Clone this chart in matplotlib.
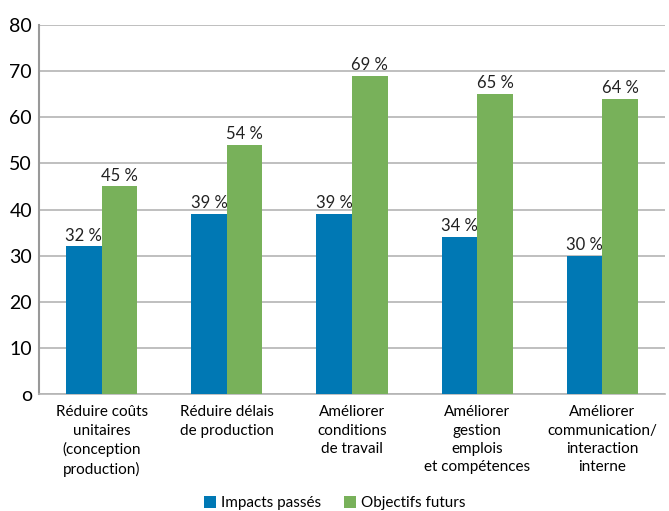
#!/usr/bin/env python3
import numpy as np
from matplotlib import pyplot as plt

plt.rcParams["font.family"] = ["Lato", "DejaVu Sans"]

CATEGORIES = [
    "Réduire coûts\nunitaires\n(conception\nproduction)",
    "Réduire délais\nde production",
    "Améliorer\nconditions\nde travail",
    "Améliorer\ngestion\nemplois\net compétences",
    "Améliorer\ncommunication/\ninteraction\ninterne",
]
SERIES_NAMES = ["Impacts passés", "Objectifs futurs"]
PAST = [32, 39, 39, 34, 30]
FUTURE = [45, 54, 69, 65, 64]
COLORS = ["#0078b4", "#78b15a"]


def main():
    fig = plt.figure(figsize=(6.69, 5.11), dpi=100)
    ax = fig.add_axes((39 / 669, 1 - 394 / 511, 626 / 669, 369 / 511))

    x = np.arange(len(CATEGORIES))
    width = 0.285
    for i, (vals, name, color) in enumerate(zip([PAST, FUTURE], SERIES_NAMES, COLORS)):
        offs = (i - 0.5) * width
        bars = ax.bar(x + offs, vals, width, color=color, label=name, zorder=3)
        for b, v in zip(bars, vals):
            ax.text(b.get_x() + b.get_width() / 2, v + 0.6, f"{v} %",
                    ha="center", va="bottom", fontsize=12, color="#222222")

    ax.set_xlim(-0.5, len(CATEGORIES) - 0.5)
    ax.set_ylim(0, 80)
    ax.set_yticks(range(0, 81, 10))
    ax.set_yticklabels([str(v) if v else "o" for v in range(0, 81, 10)], fontsize=14)
    ax.yaxis.grid(True, color="#b4b4b4", linewidth=1.2, zorder=0)
    ax.tick_params(axis="y", length=0, pad=5)
    ax.tick_params(axis="x", length=0, pad=8)
    ax.set_xticks(x)
    ax.set_xticklabels(CATEGORIES, fontsize=11, linespacing=1.4)
    for side in ["top", "right"]:
        ax.spines[side].set_visible(False)
    ax.spines["left"].set_color("#999999")
    ax.spines["left"].set_linewidth(1.5)
    ax.spines["bottom"].set_color("#b4b4b4")
    ax.spines["bottom"].set_linewidth(1.2)

    fig.legend(loc="lower center", bbox_to_anchor=(0.5, -0.025), ncol=2, frameon=False,
               fontsize=11, handlelength=0.8, handleheight=0.8, handletextpad=0.3,
               columnspacing=1.5)

    fig.savefig("out.png", dpi=100)


if __name__ == "__main__":
    main()
